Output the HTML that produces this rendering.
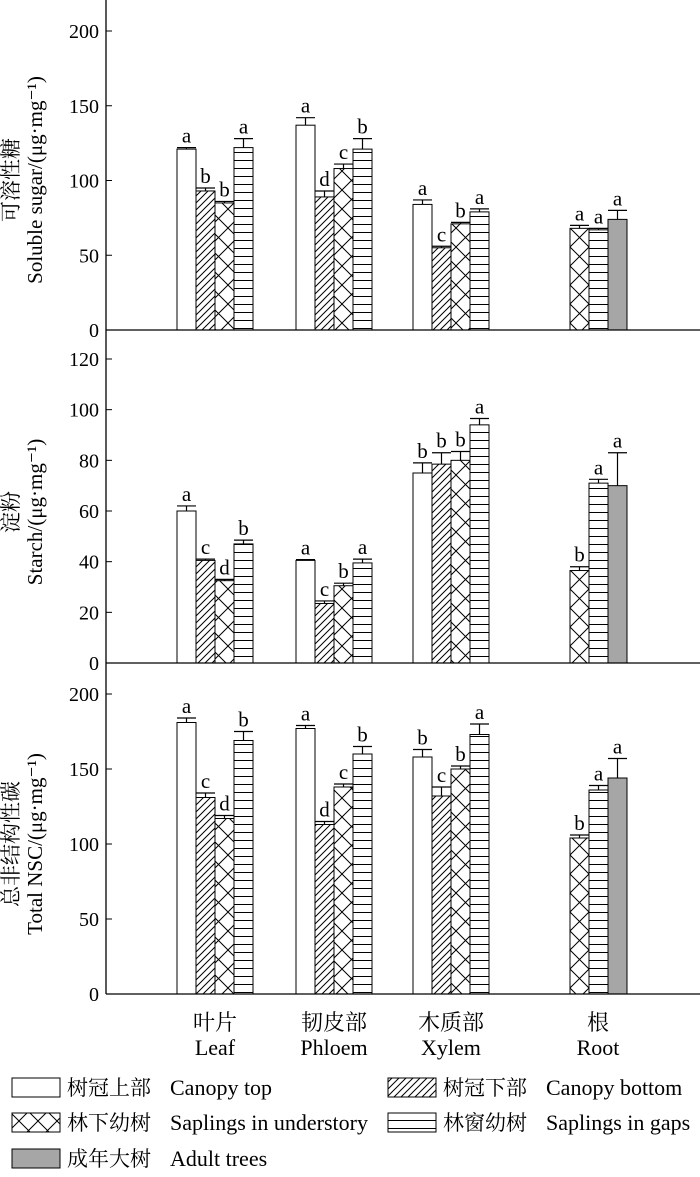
<!DOCTYPE html>
<html><head><meta charset="utf-8"><style>
body{margin:0;background:#fff}
svg text{font-family:"Liberation Serif","Noto Serif CJK SC",serif;fill:#000}
</style></head><body>
<svg id="c" width="700" height="1172" viewBox="0 0 700 1172" xmlns="http://www.w3.org/2000/svg">
<defs>
<pattern id="pDiag" patternUnits="userSpaceOnUse" width="7" height="7"><rect width="7" height="7" fill="#fff"/><path d="M-1,8 L8,-1 M-2,2 L2,-2 M5,9 L9,5" stroke="#000" stroke-width="1"/></pattern>
<pattern id="pCross" patternUnits="userSpaceOnUse" width="19" height="19"><rect width="19" height="19" fill="#fff"/><path d="M0,0 L19,19 M19,0 L0,19" stroke="#000" stroke-width="1"/></pattern>
<pattern id="pHorz" patternUnits="userSpaceOnUse" width="10" height="8"><rect width="10" height="8" fill="#fff"/><path d="M0,0.5 H10" stroke="#000" stroke-width="1"/></pattern>
</defs>
<g id="plot"></g>
</svg>
<script>
const groups=["叶片|Leaf","韧皮部|Phloem","木质部|Xylem","根|Root"];
const series=["Canopy top","Canopy bottom","Saplings in understory","Saplings in gaps","Adult trees"];
const sugarVals=[[121,93,85,122,null],[137,89,108,121,null],[84,55,71,79,null],[null,null,68,67,74]];
const sugarErr=[[1,2,1,6,0],[5,4,3,7,0],[3,1,1,2,0],[0,0,2,1,6]];
const sugarLet=[["a","b","b","a",""],["a","d","c","b",""],["a","c","b","a",""],["","","a","a","a"]];
const starchVals=[[60,40.5,32.5,47,null],[40.5,23.5,30.5,39.5,null],[75,78.5,80,94,null],[null,null,36.5,71,70]];
const starchErr=[[2,0.5,0.5,1.5,0],[0.3,1,1,1.5,0],[4,4.5,3.5,2.5,0],[0,0,1.5,1.5,13]];
const starchLet=[["a","c","d","b",""],["a","c","b","a",""],["b","b","b","a",""],["","","b","a","a"]];
const totalVals=[[181,131,117,169,null],[177,113,138,160,null],[158,132,150,173,null],[null,null,104,136,144]];
const totalErr=[[3,3,2,6,0],[2,2,2,5,0],[5,6,2,7,0],[0,0,2,3,13]];
const totalLet=[["a","c","d","b",""],["a","d","c","b",""],["b","c","b","a",""],["","","b","a","a"]];
const sugarTicks=[0,50,100,150,200];
const starchTicks=[0,20,40,60,80,100,120];
const totalTicks=[0,50,100,150,200];

const NS="http://www.w3.org/2000/svg";
const g=document.getElementById('plot');
function mk(tag,attrs,parent){const e=document.createElementNS(NS,tag);for(const k in attrs)e.setAttribute(k,attrs[k]);(parent||g).appendChild(e);return e;}
const fills=["#fff","url(#pDiag)","url(#pCross)","url(#pHorz)","#a6a6a6"];
const AX=106, BW=19;
const groupStart=[177,296,413,532];
function xPos(gi,si){return groupStart[gi]+si*BW;}
const panels=[
 {name:"sugar",vals:sugarVals,err:sugarErr,lets:sugarLet,ticks:sugarTicks,max:200,y0:330,y1:31,cn:"可溶性糖",en:"Soluble sugar/(μg·mg⁻¹)",ty:180},
 {name:"starch",vals:starchVals,err:starchErr,lets:starchLet,ticks:starchTicks,max:120,y0:663,y1:359,cn:"淀粉",en:"Starch/(μg·mg⁻¹)",ty:512},
 {name:"total",vals:totalVals,err:totalErr,lets:totalLet,ticks:totalTicks,max:200,y0:994,y1:694,cn:"总非结构性碳",en:"Total NSC/(μg·mg⁻¹)",ty:844}
];
panels.forEach(p=>{
 const y=v=>p.y0-(v/p.max)*(p.y0-p.y1);
 const pg=mk('g',{});
 
 
 p.ticks.forEach(t=>{
  const tl=mk('line',{x1:AX,x2:AX+6,y1:y(t),y2:y(t),stroke:'#000','stroke-width':1},pg);
  
  
  const tx=mk('text',{x:AX-7,y:y(t)+7,'text-anchor':'end','font-size':20},pg);tx.textContent=t;
  
  
 });
 const t1=mk('text',{x:0,y:0,'text-anchor':'middle','font-size':21,transform:`translate(18,${p.ty}) rotate(-90)`},pg);t1.textContent=p.cn;
 
 
 const t2=mk('text',{x:0,y:0,'text-anchor':'middle','font-size':21,transform:`translate(42,${p.ty}) rotate(-90)`},pg);t2.textContent=p.en;
 
 
 p.vals.forEach((row,gi)=>row.forEach((v,si)=>{
  if(v==null)return;
  const x=xPos(gi,si);
  const b=mk('rect',{x:x,y:y(v),width:BW,height:p.y0-y(v),fill:fills[si],stroke:'#000','stroke-width':1},pg);
  
  
  const e=p.err[gi][si];const ye=y(v+e);const cx=x+BW/2;
  const el=mk('path',{d:`M${cx},${y(v)} V${ye} M${x},${ye} H${x+BW}`,stroke:'#000','stroke-width':1.2,fill:'none'},pg);
  
  
  const lt=mk('text',{x:cx,y:ye-5,'text-anchor':'middle','font-size':21},pg);lt.textContent=p.lets[gi][si];
  
  
 }));
 const bl=mk('line',{x1:AX,x2:700,y1:p.y0,y2:p.y0,stroke:'#000','stroke-width':1.3},pg);
 
 
});
const ya=mk('line',{x1:AX,x2:AX,y1:0,y2:994,stroke:'#000','stroke-width':1.3});


const gc=[215,334,451,598];
groups.forEach((s,i)=>{
 const [cn,en]=s.split('|');
 const a=mk('text',{x:gc[i],y:1030,'text-anchor':'middle','font-size':22});a.textContent=cn;
 
 
 const b=mk('text',{x:gc[i],y:1055,'text-anchor':'middle','font-size':22});b.textContent=en;
 
 
});
const leg=[["树冠上部","Canopy top",12,1087],["树冠下部","Canopy bottom",388,1087],["林下幼树","Saplings in understory",12,1122],["林窗幼树","Saplings in gaps",388,1122],["成年大树","Adult trees",12,1158]];
leg.forEach((l,i)=>{
 const r=mk('rect',{x:l[2],y:l[3]-9,width:48,height:19,fill:fills[i],stroke:'#000','stroke-width':1});
 
 
 const t=mk('text',{x:l[2]+55,y:l[3]+8,'font-size':21});t.textContent=l[0];
 
 
 const t2=mk('text',{x:l[2]+158,y:l[3]+8,'font-size':22});t2.textContent=l[1];
 
 
});
</script>
</body></html>
